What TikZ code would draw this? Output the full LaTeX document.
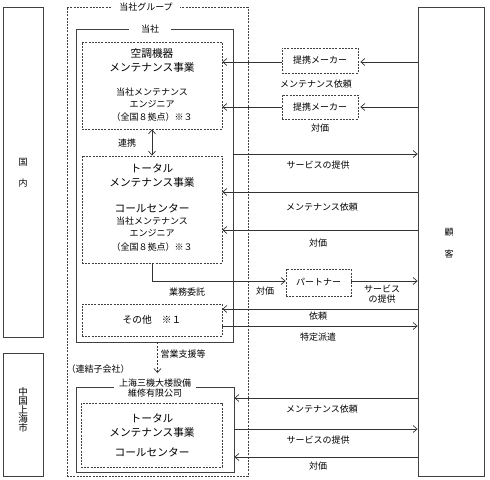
\documentclass[tikz,border=0pt]{standalone}
\usepackage{fontspec}
\setmainfont{Noto Sans CJK JP}
\usetikzlibrary{arrows.meta}
\tikzset{
  box/.style={draw=black!75, line width=0.8bp, inner sep=0pt, fill=none},
  dbox/.style={draw=black!75, line width=0.7bp, inner sep=0pt, dash pattern=on 2bp off 1.2bp},
  sm/.style={font=\fontsize{9bp}{10.5bp}\selectfont, inner sep=0pt, align=center},
  big/.style={font=\fontsize{10.7bp}{12bp}\selectfont, inner sep=0pt, align=center},
  arr/.style={draw=black!80, line width=0.7bp, -{Straight Barb[length=4bp,width=7bp]}},
  dblarr/.style={draw=black!80, line width=0.7bp, {Straight Barb[length=4bp,width=7bp]}-{Straight Barb[length=4bp,width=7bp]}},
  gap/.style={sm, fill=white, inner ysep=1bp}
}
\begin{document}
\begin{tikzpicture}[x=1bp,y=-1bp]
\useasboundingbox (0,0) rectangle (490,480);
% outer boxes
\node[box, minimum width=40bp, minimum height=330bp] (kokunai) at (23,172) {};
\node[box, minimum width=40bp, minimum height=123bp] (shlabel) at (23,414.5) {};
\node[box, minimum width=66bp, minimum height=469bp] (kokyaku) at (451,241.5) {};
\node[dbox, minimum width=181bp, minimum height=469bp] (group) at (157.5,241.5) {};
\node[box, minimum width=157bp, minimum height=313bp] (tosha) at (154.5,185.5) {};
\node[dbox, minimum width=140bp, minimum height=87bp] (kucho) at (152,85.5) {};
\node[dbox, minimum width=140bp, minimum height=107bp] (total) at (152,209.5) {};
\node[dbox, minimum width=140bp, minimum height=32bp] (sonota) at (152,320) {};
\node[dbox, minimum width=65bp, minimum height=27bp] (partner) at (318.5,282.5) {};
\node[dbox, minimum width=76bp, minimum height=25bp] (maker1) at (320,60.5) {};
\node[dbox, minimum width=76bp, minimum height=24bp] (maker2) at (320,107) {};
\node[box, minimum width=158bp, minimum height=85bp] (shco) at (155,429.5) {};
\node[dbox, minimum width=141bp, minimum height=64bp] (shin) at (151.5,435) {};

% border labels
\node[gap, inner xsep=7bp] (tgroup) at (146,7) {当社グループ};
\node[gap, inner xsep=12bp] (ttosha) at (150,29) {当社};
\node[gap, inner xsep=5bp] (tshco) at (155,388) {上海三機大楼設備\\維修有限公司};

% texts in left labels
\node[sm] (t1) at (23,162) {国};
\node[sm] (t2) at (23,183) {内};
\node[sm, font=\fontsize{9.5bp}{9bp}\selectfont] (t3) at (23,410) {中\\国\\上\\海\\市};
\node[sm] (t4) at (449,232) {顧};
\node[sm] (t5) at (449,254) {客};

% kucho
\node[big] (k1) at (152,53) {空調機器};
\node[big] (k2) at (152,67) {メンテナンス事業};
\node[sm] (k3) at (152,92) {当社メンテナンス};
\node[sm] (k4) at (152,104) {エンジニア};
\node[sm] (k5) at (152,117) {（全国８拠点）※３};
% total
\node[big] (s1) at (152,168) {トータル};
\node[big] (s2) at (152,182) {メンテナンス事業};
\node[big] (s3) at (152,208) {コールセンター};
\node[sm] (s4) at (152,221) {当社メンテナンス};
\node[sm] (s5) at (152,233) {エンジニア};
\node[sm] (s6) at (152,247) {（全国８拠点）※３};
% sonota
\node[big, font=\fontsize{9.8bp}{11bp}\selectfont] (o1) at (152,320) {その他\quad ※１};
% shanghai inner
\node[big] (h1) at (152,418) {トータル};
\node[big] (h2) at (152,432) {メンテナンス事業};
\node[big] (h3) at (152,452) {コールセンター};
% small boxes text
\node[sm] (m1t) at (maker1) {提携メーカー};
\node[sm] (m2t) at (maker2) {提携メーカー};
\node[sm] (pt) at (partner) {パートナー};

% coordinates for rows
\coordinate (y62) at (0,62);
\coordinate (y107) at (0,107);
\coordinate (y154) at (0,154);
\coordinate (y192) at (0,192);
\coordinate (y230) at (0,230);
\coordinate (y281) at (0,281);
\coordinate (y309) at (0,309);
\coordinate (y326) at (0,326);
\coordinate (y398) at (0,398);
\coordinate (y429) at (0,429);
\coordinate (y457) at (0,457);
\coordinate (ytip) at (0,373);

% connectors
\draw[arr] (kokyaku.west |- y62) -- ([xshift=2bp]maker1.east |- y62);
\draw[arr] (maker1.west |- y62) -- (kucho.east |- y62);
\draw[arr] (kokyaku.west |- y107) -- ([xshift=2bp]maker2.east |- y107);
\draw[arr] (maker2.west |- y107) -- (kucho.east |- y107);
\draw[arr] (tosha.east |- y154) -- (kokyaku.west |- y154);
\draw[arr] (kokyaku.west |- y192) -- (total.east |- y192);
\draw[arr] (kokyaku.west |- y230) -- (total.east |- y230);
\draw[arr] (total.south) -- (total.south |- y281) -- (partner.west |- y281);
\draw[arr] (partner.east |- y281) -- (kokyaku.west |- y281);
\draw[arr] (kokyaku.west |- y309) -- (sonota.east |- y309);
\draw[arr] (sonota.east |- y326) -- (kokyaku.west |- y326);
\draw[dblarr] (kucho.south) -- (total.north);
\draw[arr, dash pattern=on 2bp off 1.5bp] ([xshift=3bp]tosha.south) -- ([xshift=3bp]tosha.south |- ytip);
\draw[arr] (kokyaku.west |- y398) -- (shco.east |- y398);
\draw[arr] (shco.east |- y429) -- (kokyaku.west |- y429);
\draw[arr] (kokyaku.west |- y457) -- (shco.east |- y457);

% connector labels
\node[sm] (l1) at (316,84) {メンテナンス依頼};
\node[sm] (l2) at (320,128) {対価};
\node[sm] (l3) at (318,165) {サービスの提供};
\node[sm] (l4) at (322,207) {メンテナンス依頼};
\node[sm] (l5) at (318,243) {対価};
\node[sm] (l6) at (187,292) {業務委託};
\node[sm] (l7) at (265,291) {対価};
\node[sm] (l8) at (382,294) {サービス\\の提供};
\node[sm] (l9) at (318,316) {依頼};
\node[sm] (l10) at (318,337) {特定派遣};
\node[sm] (l11) at (127,143) {連携};
\node[sm] (l12) at (183,354) {営業支援等};
\node[sm] (l13) at (98,369) {（連結子会社）};
\node[sm] (l14) at (322,409) {メンテナンス依頼};
\node[sm] (l15) at (318,440) {サービスの提供};
\node[sm] (l16) at (318,466) {対価};
\end{tikzpicture}
\end{document}
